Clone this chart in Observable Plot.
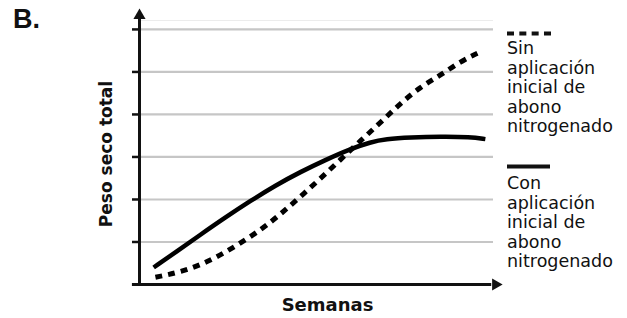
<!DOCTYPE html>
<html>
<head>
<meta charset="utf-8">
<script src="https://cdn.jsdelivr.net/npm/d3@7"></script>
<script src="https://cdn.jsdelivr.net/npm/@observablehq/plot@0.6"></script>
<style>
  html, body { margin: 0; padding: 0; background: #fff; }
  #wrap { position: relative; width: 627px; height: 318px; overflow: hidden; font-family: "DejaVu Sans", Verdana, sans-serif; color: #111; }
  #chart { position: absolute; left: 0; top: 0; }
  .lbl { position: absolute; white-space: nowrap; }
  .leg { position: absolute; left: 507px; font-size: 17.5px; line-height: 19.5px; }
</style>
</head>
<body>
<div id="wrap">
  <div id="chart"></div>
  <div class="lbl" style="left:13px; top:4px; font-family:'Liberation Sans', Arial, sans-serif; font-weight:bold; font-size:27px; line-height:30px;">B.</div>
  <div class="lbl" id="ylab" style="left:5.5px; top:144px; width:200px; text-align:center; font-weight:bold; font-size:17px; line-height:20px; transform: rotate(-90deg); transform-origin: center;">Peso seco total</div>
  <div class="lbl" id="xlab" style="left:227.5px; top:295px; width:200px; text-align:center; font-weight:bold; font-size:18px; line-height:20px;">Semanas</div>
  <svg style="position:absolute; left:0; top:0;" width="627" height="318">
    <line x1="507" x2="551" y1="33.5" y2="33.5" stroke="#111" stroke-width="4" stroke-dasharray="7,5.33"></line>
    <line x1="507" x2="550" y1="166.5" y2="166.5" stroke="#111" stroke-width="4"></line>
  </svg>
  <div class="leg" id="leg1" style="top:39px;"></div>
  <div class="leg" id="leg2" style="top:174px;"></div>
</div>
<script>
// Series: "Con aplicación inicial de abono nitrogenado" (solid)
const semanasCon = [0.40, 1.02, 1.72, 2.43, 3.14, 3.84, 4.55, 5.25, 5.96, 6.53, 6.95, 7.66, 8.50, 9.35, 9.77];
const pesoCon    = [0.40, 0.76, 1.17, 1.58, 1.97, 2.33, 2.65, 2.93, 3.19, 3.35, 3.42, 3.46, 3.48, 3.47, 3.42];
// Series: "Sin aplicación inicial de abono nitrogenado" (dashed)
const semanasSin = [0.45, 1.16, 1.91, 2.66, 3.42, 3.98, 4.55, 5.11, 5.68, 6.24, 6.81, 7.37, 7.94, 8.50, 9.07, 9.55];
const pesoSin    = [0.17, 0.29, 0.52, 0.87, 1.28, 1.65, 2.07, 2.49, 2.94, 3.38, 3.81, 4.26, 4.65, 4.92, 5.25, 5.44];
// Y ticks / gridlines (no labels)
const yTicks = [1, 2, 3, 4, 5, 6];
const yTop = 6.21;
const xMax = 10;
// Legend labels
const legendSin = ["Sin", "aplicación", "inicial de", "abono", "nitrogenado"];
const legendCon = ["Con", "aplicación", "inicial de", "abono", "nitrogenado"];

const con = semanasCon.map((x, i) => ({x, y: pesoCon[i]}));
const sin = semanasSin.map((x, i) => ({x, y: pesoSin[i]}));

const chart = Plot.plot({
  width: 627,
  height: 318,
  marginLeft: 139,
  marginRight: 134,
  marginTop: 20,
  marginBottom: 34,
  style: {background: "transparent", overflow: "visible"},
  x: {domain: [0, xMax], axis: null},
  y: {domain: [0, yTop], axis: null},
  marks: [
    Plot.ruleY([yTop], {stroke: "#ececec", strokeWidth: 1}),
    Plot.ruleY(yTicks, {stroke: "#c6c6c6", strokeWidth: 2.2}),
    Plot.axisY(yTicks, {tickSize: 7, tickFormat: () => "", label: null, stroke: "#111", strokeWidth: 2.5}),
    Plot.line(sin, {x: "x", y: "y", curve: "basis", stroke: "#000", strokeWidth: 5, strokeDasharray: "7,6", strokeLinecap: "butt"}),
    Plot.line(con, {x: "x", y: "y", curve: "basis", stroke: "#000", strokeWidth: 4.5, strokeLinecap: "butt"}),
    Plot.ruleX([0], {y1: -0.04, y2: 6.27, stroke: "#111", strokeWidth: 3}),
    Plot.ruleY([0], {x1: -0.2, x2: 9.95, stroke: "#111", strokeWidth: 3}),
    Plot.dot([{x: 0, y: 6.33}], {x: "x", y: "y", symbol: "triangle", r: 4.5, fill: "#111", stroke: null}),
    Plot.dot([{x: 10.06, y: 0}], {x: "x", y: "y", symbol: "triangle", r: 4.5, rotate: 90, fill: "#111", stroke: null})
  ]
});
document.getElementById("chart").appendChild(chart);
document.getElementById("leg1").innerHTML = legendSin.join("<br>");
document.getElementById("leg2").innerHTML = legendCon.join("<br>");
</script>
</body>
</html>
